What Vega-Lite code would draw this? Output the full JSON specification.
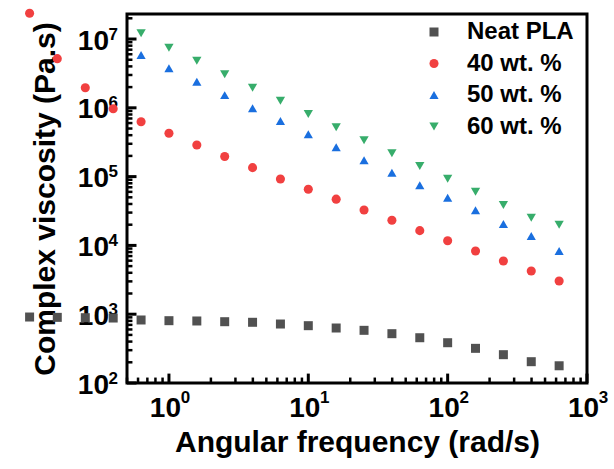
{
  "$schema": "https://vega.github.io/schema/vega-lite/v6.json",
  "width": 460,
  "height": 369,
  "autosize": {"type": "none"},
  "padding": {"left": 127, "top": 14, "right": 27, "bottom": 86},
  "config": {
    "font": "Liberation Sans",
    "view": {"stroke": "black", "strokeWidth": 3},
    "axis": {
      "domain": false,
      "ticks": false,
      "grid": false,
      "zindex": 1,
      "labelFont": "Liberation Sans",
      "labelFontWeight": "bold",
      "labelColor": "black",
      "labelOverlap": false,
      "labelFlush": false,
      "titleFont": "Liberation Sans",
      "titleFontWeight": "bold",
      "titleFontSize": 30,
      "titleColor": "black"
    }
  },
  "resolve": {"axis": {"x": "independent", "y": "independent"}},
  "layer": [
    {
      "data": {"values": [{"t": 1}, {"t": 10}, {"t": 100}, {"t": 1000}]},
      "mark": {"type": "rule", "color": "black", "strokeWidth": 3},
      "encoding": {
        "x": {"field": "t", "type": "quantitative", "scale": {"type": "log", "domain": [0.5, 1000], "nice": false}, "axis": null},
        "y": {"datum": 100, "scale": {"type": "log", "domain": [100, 23100000], "nice": false}, "axis": null},
        "y2": {"datum": 137}
      }
    },
    {
      "data": {"values": [{"t": 0.5}, {"t": 0.6}, {"t": 0.7}, {"t": 0.8}, {"t": 0.9}, {"t": 2}, {"t": 3}, {"t": 4}, {"t": 5}, {"t": 6}, {"t": 7}, {"t": 8}, {"t": 9}, {"t": 20}, {"t": 30}, {"t": 40}, {"t": 50}, {"t": 60}, {"t": 70}, {"t": 80}, {"t": 90}, {"t": 200}, {"t": 300}, {"t": 400}, {"t": 500}, {"t": 600}, {"t": 700}, {"t": 800}, {"t": 900}]},
      "mark": {"type": "rule", "color": "black", "strokeWidth": 2.5},
      "encoding": {
        "x": {"field": "t", "type": "quantitative", "axis": null},
        "y": {"datum": 100, "axis": null},
        "y2": {"datum": 120}
      }
    },
    {
      "data": {"values": [{"t": 100}, {"t": 1000}, {"t": 10000}, {"t": 100000}, {"t": 1000000}, {"t": 10000000}]},
      "mark": {"type": "rule", "color": "black", "strokeWidth": 3},
      "encoding": {
        "y": {"field": "t", "type": "quantitative", "axis": null},
        "x": {"datum": 0.5, "axis": null},
        "x2": {"datum": 0.585}
      }
    },
    {
      "data": {"values": [{"t": 200}, {"t": 300}, {"t": 400}, {"t": 500}, {"t": 600}, {"t": 700}, {"t": 800}, {"t": 900}, {"t": 2000}, {"t": 3000}, {"t": 4000}, {"t": 5000}, {"t": 6000}, {"t": 7000}, {"t": 8000}, {"t": 9000}, {"t": 20000}, {"t": 30000}, {"t": 40000}, {"t": 50000}, {"t": 60000}, {"t": 70000}, {"t": 80000}, {"t": 90000}, {"t": 200000}, {"t": 300000}, {"t": 400000}, {"t": 500000}, {"t": 600000}, {"t": 700000}, {"t": 800000}, {"t": 900000}, {"t": 2000000}, {"t": 3000000}, {"t": 4000000}, {"t": 5000000}, {"t": 6000000}, {"t": 7000000}, {"t": 8000000}, {"t": 9000000}, {"t": 20000000}]},
      "mark": {"type": "rule", "color": "black", "strokeWidth": 2.5},
      "encoding": {
        "y": {"field": "t", "type": "quantitative", "axis": null},
        "x": {"datum": 0.5, "axis": null},
        "x2": {"datum": 0.547}
      }
    },
    {
      "data": {
        "values": [
          {"s": "Neat PLA", "f": 0.1, "v": 910},
          {"s": "Neat PLA", "f": 0.158, "v": 900},
          {"s": "Neat PLA", "f": 0.251, "v": 890},
          {"s": "Neat PLA", "f": 0.398, "v": 880},
          {"s": "Neat PLA", "f": 0.631, "v": 824},
          {"s": "Neat PLA", "f": 1, "v": 805},
          {"s": "Neat PLA", "f": 1.585, "v": 797},
          {"s": "Neat PLA", "f": 2.512, "v": 778},
          {"s": "Neat PLA", "f": 3.981, "v": 763},
          {"s": "Neat PLA", "f": 6.31, "v": 720},
          {"s": "Neat PLA", "f": 10, "v": 681},
          {"s": "Neat PLA", "f": 15.85, "v": 630},
          {"s": "Neat PLA", "f": 25.12, "v": 583},
          {"s": "Neat PLA", "f": 39.81, "v": 521},
          {"s": "Neat PLA", "f": 63.1, "v": 455},
          {"s": "Neat PLA", "f": 100, "v": 385},
          {"s": "Neat PLA", "f": 158.5, "v": 319},
          {"s": "Neat PLA", "f": 251.2, "v": 258},
          {"s": "Neat PLA", "f": 398.1, "v": 204},
          {"s": "Neat PLA", "f": 631, "v": 178},
          {"s": "40 wt. %", "f": 0.1, "v": 23700000},
          {"s": "40 wt. %", "f": 0.158, "v": 5180000},
          {"s": "40 wt. %", "f": 0.251, "v": 1960000},
          {"s": "40 wt. %", "f": 0.398, "v": 970000},
          {"s": "40 wt. %", "f": 0.631, "v": 628000},
          {"s": "40 wt. %", "f": 1, "v": 426000},
          {"s": "40 wt. %", "f": 1.585, "v": 288000},
          {"s": "40 wt. %", "f": 2.512, "v": 196000},
          {"s": "40 wt. %", "f": 3.981, "v": 135000},
          {"s": "40 wt. %", "f": 6.31, "v": 92200},
          {"s": "40 wt. %", "f": 10, "v": 65400},
          {"s": "40 wt. %", "f": 15.85, "v": 47000},
          {"s": "40 wt. %", "f": 25.12, "v": 32700},
          {"s": "40 wt. %", "f": 39.81, "v": 23200},
          {"s": "40 wt. %", "f": 63.1, "v": 16400},
          {"s": "40 wt. %", "f": 100, "v": 11700},
          {"s": "40 wt. %", "f": 158.5, "v": 8290},
          {"s": "40 wt. %", "f": 251.2, "v": 5930},
          {"s": "40 wt. %", "f": 398.1, "v": 4250},
          {"s": "40 wt. %", "f": 631, "v": 3040},
          {"s": "50 wt. %", "f": 0.631, "v": 5850000},
          {"s": "50 wt. %", "f": 1, "v": 3750000},
          {"s": "50 wt. %", "f": 1.585, "v": 2390000},
          {"s": "50 wt. %", "f": 2.512, "v": 1530000},
          {"s": "50 wt. %", "f": 3.981, "v": 984000},
          {"s": "50 wt. %", "f": 6.31, "v": 643000},
          {"s": "50 wt. %", "f": 10, "v": 413000},
          {"s": "50 wt. %", "f": 15.85, "v": 267000},
          {"s": "50 wt. %", "f": 25.12, "v": 173000},
          {"s": "50 wt. %", "f": 39.81, "v": 114000},
          {"s": "50 wt. %", "f": 63.1, "v": 74700},
          {"s": "50 wt. %", "f": 100, "v": 49300},
          {"s": "50 wt. %", "f": 158.5, "v": 32400},
          {"s": "50 wt. %", "f": 251.2, "v": 20500},
          {"s": "50 wt. %", "f": 398.1, "v": 13700},
          {"s": "50 wt. %", "f": 631, "v": 8300},
          {"s": "60 wt. %", "f": 0.631, "v": 12100000},
          {"s": "60 wt. %", "f": 1, "v": 7480000},
          {"s": "60 wt. %", "f": 1.585, "v": 4840000},
          {"s": "60 wt. %", "f": 2.512, "v": 3070000},
          {"s": "60 wt. %", "f": 3.981, "v": 1960000},
          {"s": "60 wt. %", "f": 6.31, "v": 1270000},
          {"s": "60 wt. %", "f": 10, "v": 812000},
          {"s": "60 wt. %", "f": 15.85, "v": 521000},
          {"s": "60 wt. %", "f": 25.12, "v": 338000},
          {"s": "60 wt. %", "f": 39.81, "v": 218000},
          {"s": "60 wt. %", "f": 63.1, "v": 143000},
          {"s": "60 wt. %", "f": 100, "v": 93300},
          {"s": "60 wt. %", "f": 158.5, "v": 60400},
          {"s": "60 wt. %", "f": 251.2, "v": 38700},
          {"s": "60 wt. %", "f": 398.1, "v": 25300},
          {"s": "60 wt. %", "f": 631, "v": 20000}
        ]
      },
      "mark": {"type": "point", "filled": true, "opacity": 1},
      "encoding": {
        "x": {
          "field": "f",
          "type": "quantitative",
          "axis": {
            "orient": "bottom",
            "title": "Angular frequency (rad/s)",
            "values": [1, 10, 100, 1000],
            "labelExpr": "'10'",
            "labelFontSize": 28,
            "labelPadding": 11,
            "labelOffset": -4,
            "titlePadding": 5
          }
        },
        "y": {
          "field": "v",
          "type": "quantitative",
          "axis": {
            "orient": "left",
            "title": "Complex viscosity (Pa.s)",
            "values": [100, 1000, 10000, 100000, 1000000, 10000000],
            "labelExpr": "'10'",
            "labelFontSize": 28,
            "labelPadding": 18.5,
            "labelOffset": 2,
            "titlePadding": 17
          }
        },
        "color": {
          "field": "s",
          "type": "nominal",
          "scale": {"domain": ["Neat PLA", "40 wt. %", "50 wt. %", "60 wt. %"], "range": ["#515151", "#F14040", "#1A6FDF", "#37AD6B"]},
          "legend": {
            "orient": "none",
            "legendX": 295,
            "legendY": 6,
            "title": null,
            "labelFontSize": 24,
            "labelFontWeight": "bold",
            "labelColor": "black",
            "labelOffset": 21,
            "rowPadding": 7.5,
            "symbolStrokeWidth": 0
          }
        },
        "shape": {
          "field": "s",
          "type": "nominal",
          "scale": {"domain": ["Neat PLA", "40 wt. %", "50 wt. %", "60 wt. %"], "range": ["square", "circle", "triangle-up", "triangle-down"]}
        },
        "size": {
          "field": "s",
          "type": "nominal",
          "scale": {"domain": ["Neat PLA", "40 wt. %", "50 wt. %", "60 wt. %"], "range": [81, 86, 115, 115]}
        }
      }
    },
    {
      "data": {"values": []},
      "mark": {"type": "point"},
      "encoding": {
        "x": {
          "field": "f",
          "type": "quantitative",
          "axis": {
            "orient": "bottom",
            "title": null,
            "values": [1, 10, 100, 1000],
            "labelExpr": "'' + round(log(datum.value)/LN10)",
            "labelFontSize": 17,
            "labelPadding": 6,
            "labelOffset": 16
          }
        },
        "y": {
          "field": "v",
          "type": "quantitative",
          "axis": {
            "orient": "left",
            "title": null,
            "values": [100, 1000, 10000, 100000, 1000000, 10000000],
            "labelExpr": "'' + round(log(datum.value)/LN10)",
            "labelFontSize": 17,
            "labelPadding": 9.5,
            "labelOffset": -5
          }
        }
      }
    }
  ]
}
